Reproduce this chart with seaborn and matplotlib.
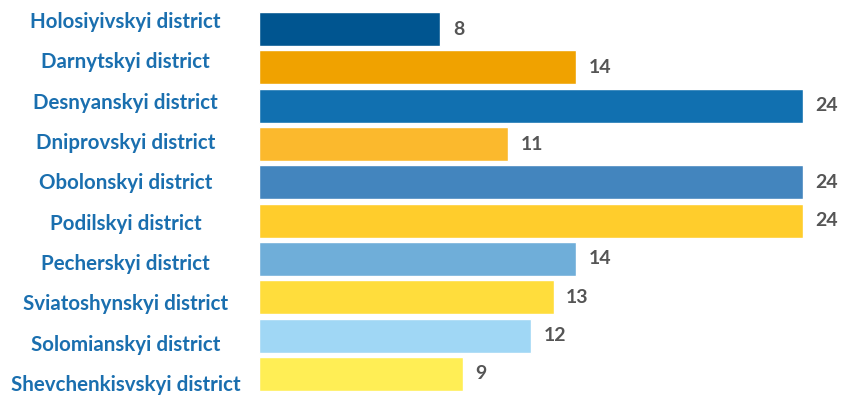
import matplotlib
matplotlib.use("Agg")
import matplotlib.pyplot as plt
import matplotlib.transforms as mtransforms
import seaborn as sns
import pandas as pd

districts = [
    "Holosiyivskyi district", "Darnytskyi district", "Desnyanskyi district",
    "Dniprovskyi district", "Obolonskyi district", "Podilskyi district",
    "Pecherskyi district", "Sviatoshynskyi district", "Solomianskyi district",
    "Shevchenkisvskyi district",
]
values = [8, 14, 24, 11, 24, 24, 14, 13, 12, 9]
colors = ["#005590", "#F0A200", "#1170B0", "#FBB92D", "#4385BE",
          "#FFCD2C", "#6FAED9", "#FFDD3C", "#A0D7F5", "#FFEE55"]

df = pd.DataFrame({"district": districts, "value": values})

sns.set_theme(style="white")
plt.rcParams["font.family"] = ["Lato", "DejaVu Sans"]

fig = plt.figure(figsize=(8.42, 3.96), dpi=100)
ax = fig.add_axes([259 / 842, 3 / 396, (803 - 259) / 842, 383 / 396])

sns.barplot(data=df, y="district", x="value", hue="district",
            palette=dict(zip(districts, colors)), orient="h",
            width=0.89, legend=False, ax=ax, saturation=1)

ax.set_xlim(0, 24)
ax.set_ylim(9.5, -0.5)
ax.set_xlabel("")
ax.set_ylabel("")
ax.set_xticks([])
for s in ax.spines.values():
    s.set_visible(False)

ax.tick_params(axis="y", length=0, pad=96)
for i, lab in enumerate(ax.get_yticklabels()):
    lab.set_ha("center")
    lab.set_color("#1A6FAF")
    lab.set_fontweight("bold")
    lab.set_fontsize(14.8)
    dy = (9 - 2 * i) / 100.0
    lab.set_transform(lab.get_transform() +
                      mtransforms.ScaledTranslation(0, dy, fig.dpi_scale_trans))

for cont in ax.containers:
    ax.bar_label(cont, padding=9, color="#555555", fontsize=14,
                 fontweight="bold")

fig.savefig("out.png", dpi=100)
